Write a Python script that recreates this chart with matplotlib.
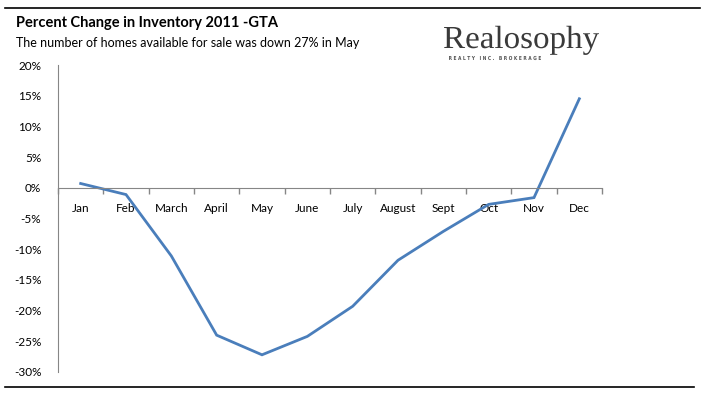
import numpy as np
import matplotlib
matplotlib.use("Agg")
import matplotlib.pyplot as plt
from matplotlib.lines import Line2D
from matplotlib.textpath import TextPath
from matplotlib.patches import PathPatch
from matplotlib.font_manager import FontProperties
from matplotlib.transforms import Affine2D, IdentityTransform

months = ["Jan", "Feb", "March", "April", "May", "June", "July",
          "August", "Sept", "Oct", "Nov", "Dec"]
pct_change = [0.7, -1.1, -11.1, -24.0, -27.2, -24.2, -19.3,
              -11.8, -7.1, -2.7, -1.6, 14.5]
y_ticks = [20, 15, 10, 5, 0, -5, -10, -15, -20, -25, -30]

plt.rcParams['font.family'] = ['Lato', 'DejaVu Sans']

W, H = 706, 399
fig = plt.figure(figsize=(W / 100, H / 100), dpi=100)
fig.patch.set_facecolor("white")

# plot area in pixel coordinates of the reference
left, right, top, bottom = 58, 602, 65, 372
ax = fig.add_axes([left / W, 1 - bottom / H, (right - left) / W, (bottom - top) / H])

x = np.arange(len(months))
ax.plot(x, pct_change, color="#4A7EBB", lw=2.0, solid_joinstyle="miter")

ax.set_xlim(-0.5, len(months) - 0.5)
ax.set_ylim(-30, 20)

axis_col = "#868686"
for s in ["top", "right"]:
    ax.spines[s].set_visible(False)
ax.spines["left"].set_color(axis_col)
ax.spines["bottom"].set_color(axis_col)
ax.spines["bottom"].set_position(("data", 0))

# category boundaries as tick marks, labels at the centres
ax.set_xticks(np.arange(len(months) + 1) - 0.5)
ax.set_xticklabels([])
ax.tick_params(axis="x", which="major", direction="out", length=4,
               color=axis_col, width=1)
ax.set_xticks(x, minor=True)
ax.set_xticklabels(months, minor=True, fontsize=8.5)
ax.tick_params(axis="x", which="minor", length=0, pad=11)

ax.set_yticks(y_ticks)
ax.set_yticklabels([f"{v}%" for v in y_ticks], fontsize=8.5)
ax.tick_params(axis="y", length=0, pad=12)

# titles
fig.text(16 / W, 1 - 23 / H, "Percent Change in Inventory 2011 -GTA",
         fontsize=10.5, fontweight="bold", va="center", ha="left")
fig.text(16 / W, 1 - 43 / H, "The number of homes available for sale was down 27% in May",
         fontsize=9, va="center", ha="left")


def fitted_text(s, prop, x0, x1, base_y, cap_h, color):
    # text drawn as a path, stretched to a box given in pixels (y from top)
    tp = TextPath((0, 0), s, size=1, prop=prop)
    cap = TextPath((0, 0), "R", size=1, prop=prop).get_extents().height
    ext = tp.get_extents()
    sx = (x1 - x0) / ext.width
    sy = cap_h / cap
    tr = Affine2D().translate(-ext.x0, 0).scale(sx, sy).translate(x0, H - base_y)
    patch = PathPatch(tr.transform_path(tp), facecolor=color, edgecolor="none",
                      transform=IdentityTransform())
    fig.add_artist(patch)


# logo
fitted_text("Realosophy", FontProperties(family="Liberation Serif"),
            444, 599, 48, 21, "#3a3a3a")
fitted_text("R E A L T Y   I N C .   B R O K E R A G E",
            FontProperties(family="DejaVu Sans", weight="bold"),
            449, 541, 60, 4, "#555555")

# horizontal rules
fig.add_artist(Line2D([5 / W, 700 / W], [1 - 8 / H, 1 - 8 / H], color="black", lw=1.2))
fig.add_artist(Line2D([5 / W, 694 / W], [1 - 387 / H, 1 - 387 / H], color="black", lw=1.2))

fig.savefig("out.png", dpi=100, facecolor="white")
